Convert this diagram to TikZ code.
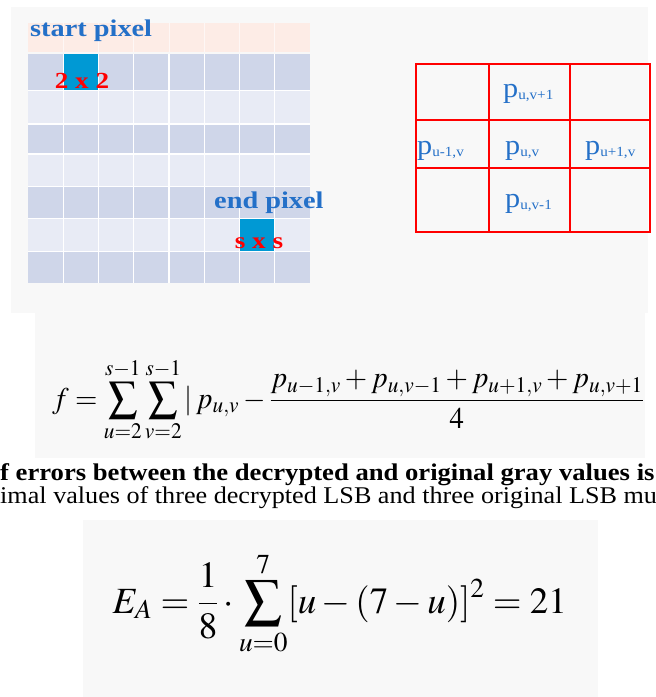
\documentclass[tikz,border=0pt]{standalone}
\usepackage{mathptmx}
\usepackage[no-math]{fontspec}
\setmainfont{Liberation Serif}
\definecolor{bgc}{RGB}{248,248,248}
\definecolor{hdr}{RGB}{253,236,230}
\definecolor{rowdark}{RGB}{207,214,233}
\definecolor{rowlight}{RGB}{232,235,245}
\definecolor{cellblue}{RGB}{0,153,212}
\definecolor{lblblue}{RGB}{36,112,200}
\definecolor{tblred}{RGB}{255,0,0}
\newcommand{\hstretch}[2][1.18]{\scalebox{#1}[1]{#2}}
\tikzset{
  pixlbl/.style={inner sep=0pt, anchor=base west, text=lblblue, font=\fontsize{24}{26}\selectfont\bfseries},
  sizelbl/.style={inner sep=0pt, anchor=base, text=tblred, font=\fontsize{23}{25}\selectfont\bfseries},
  plbl/.style={inner sep=0pt, anchor=base west, text=lblblue},
  bodytext/.style={inner sep=0pt, anchor=base west, text=black},
  eqn/.style={inner sep=0pt, text=black},
}
\newcommand{\pl}[1]{{\fontsize{28}{30}\selectfont p}\raisebox{-2pt}{\fontsize{14}{16}\selectfont #1}}
\begin{document}
\begin{tikzpicture}[x=1pt,y=-1pt]
\useasboundingbox (0,0) rectangle (656,697);
\clip (0,0) rectangle (656,697);
% light backgrounds
\fill[bgc] (11,7) rectangle (648,313);
\fill[bgc] (35,313) rectangle (645,458);
\fill[bgc] (83,520) rectangle (598,697);
% pixel grid
\fill[hdr] (28,22.7) rectangle (310,51.7);
\foreach \xa in {63.25,98.5,133.75,169,204.25,239.5,274.75}
  \draw[white, opacity=0.6, line width=1pt] (\xa,22.7) -- (\xa,51.7);
\foreach \ya/\yb/\c in {54.3/90.7/rowdark, 90.7/124/rowlight, 124/154/rowdark, 154/186.7/rowlight, 186.7/218.3/rowdark, 218.3/251.7/rowlight, 251.7/282.7/rowdark}
  \fill[\c] (28,\ya) rectangle (310,\yb);
\fill[cellblue] (63.25,54.3) rectangle (98.5,90.7);
\fill[cellblue] (239.5,218.3) rectangle (274.75,251.7);
\foreach \xa in {63.25,98.5,133.75,169,204.25,239.5,274.75}
  \draw[white, line width=1.2pt] (\xa,54.3) -- (\xa,282.7);
\foreach \ya in {90.7,124,154,186.7,218.3,251.7}
  \draw[white, line width=1.2pt] (28,\ya) -- (310,\ya);
\node[pixlbl] (start) at (30,36) {\hstretch{start pixel}};
\node[pixlbl] (end) at (214,208) {\hstretch{end pixel}};
\node[sizelbl] (two) at (82,88) {\hstretch{2 x 2}};
\node[sizelbl] (ess) at (259,248) {\hstretch{s x s}};
% red neighbourhood table
\draw[tblred, line width=2pt] (416,64) rectangle (650,231.7);
\draw[tblred, line width=2pt] (489.3,64) -- (489.3,231.7) (570,64) -- (570,231.7)
  (416,120) -- (650,120) (416,168.3) -- (650,168.3);
\node[plbl] (pt) at (503,97) {\hstretch[1.08]{\pl{u,v+1}}};
\node[plbl] (pl) at (417,154) {\hstretch[1.08]{\pl{u-1,v}}};
\node[plbl] (pc) at (505,154) {\hstretch[1.08]{\pl{u,v}}};
\node[plbl] (pr) at (585,154) {\hstretch[1.08]{\pl{u+1,v}}};
\node[plbl] (pb) at (505,207) {\hstretch[1.08]{\pl{u,v-1}}};
% formula 1
\node[eqn, anchor=base west] (f1) at (52,408) {\hstretch[0.96]{\fontsize{30}{34}\selectfont$\displaystyle f=\sum_{u=2}^{s-1}\sum_{v=2}^{s-1}|\,p_{u,v}-\frac{p_{u-1,v}+p_{u,v-1}+p_{u+1,v}+p_{u,v+1}}{4}$}};
% body text
\node[bodytext] (line1) at (0,480) {\hstretch[1.11]{\fontsize{24}{26}\selectfont\bfseries f errors between the decrypted and original gray values is}};
\node[bodytext] (line2) at (0,503) {\hstretch[1.09]{\fontsize{24}{26}\selectfont imal values of three decrypted LSB and three original LSB mu}};
% formula 2
\node[eqn, anchor=base east] (f2) at (567,613) {\fontsize{37}{42}\selectfont$\displaystyle E_A=\frac{1}{8}\cdot\sum_{u=0}^{7}[u-(7-u)]^2=21$};
\end{tikzpicture}
\end{document}
